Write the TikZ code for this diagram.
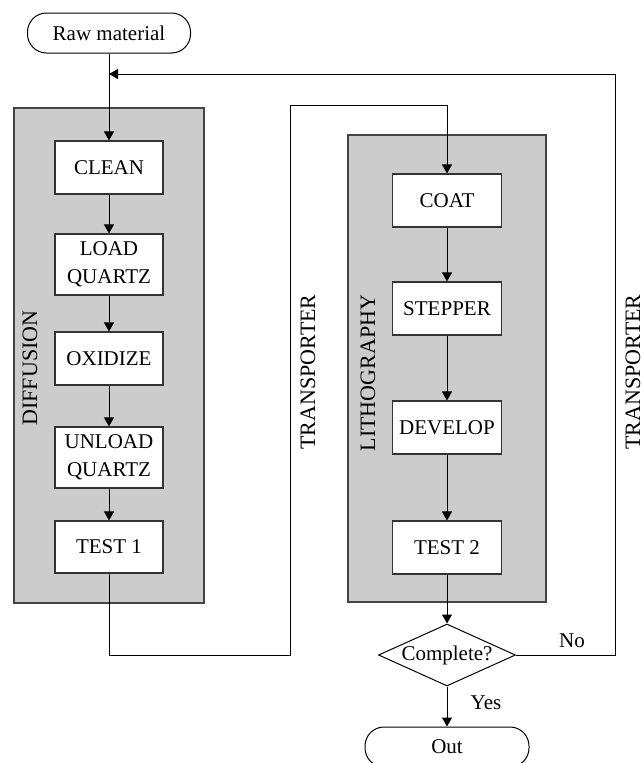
\documentclass[tikz,border=0pt]{standalone}
\usepackage{fontspec}
\setmainfont{Liberation Serif}
\usetikzlibrary{shapes.geometric,arrows.meta}
\definecolor{grp}{HTML}{CCCCCC}
\definecolor{grpline}{HTML}{444444}
\definecolor{boxline}{HTML}{333333}
\tikzset{
  every node/.style={font=\fontsize{21}{28}\selectfont},
  procbox/.style={draw=boxline, line width=1.1pt, fill=white, minimum width=108pt, inner sep=0pt, align=center},
  onebox/.style={procbox, minimum height=53pt},
  twobox/.style={procbox, minimum height=61pt},
  grpbox/.style={draw=grpline, line width=1.1pt, fill=grp, inner sep=0pt},
  termbox/.style={draw, line width=1pt, fill=white, rounded corners=19pt, inner sep=0pt},
  decbox/.style={draw, line width=1pt, fill=white, diamond, shape aspect=2.2, inner sep=0pt, minimum width=137pt, minimum height=62pt},
  arr/.style={line width=1pt, -{Triangle[length=9pt,width=10pt]}},
  ln/.style={line width=1pt},
  vlabel/.style={rotate=90, font=\fontsize{22}{26}\selectfont}
}
\begin{document}
\begin{tikzpicture}[x=1pt,y=-1pt]
\useasboundingbox (0,0) rectangle (644,763);
% group boxes
\node[grpbox, minimum width=190pt, minimum height=495pt] (diff) at (109,355.5) {};
\node[grpbox, minimum width=198pt, minimum height=467pt] (litho) at (447,368.5) {};
\node[vlabel] (difflbl) at (30,368) {DIFFUSION};
\node[vlabel] (litholbl) at (368,373) {LITHOGRAPHY};
\node[vlabel] (tr1) at (308,372) {TRANSPORTER};
\node[vlabel] (tr2) at (633,372) {TRANSPORTER};
% terminals
\node[termbox, minimum width=163pt, minimum height=40pt] (raw) at (109,33) {Raw material};
\node[termbox, minimum width=164pt, minimum height=40pt] (out) at (447,747) {Out};
% diffusion steps
\node[onebox] (clean) at (109,167.5) {CLEAN};
\node[twobox] (loadq) at (109,264.5) {LOAD\\QUARTZ};
\node[onebox] (oxid) at (109,358.5) {OXIDIZE};
\node[twobox] (unload) at (109,457.5) {UNLOAD\\QUARTZ};
\node[onebox, minimum height=52pt] (test1) at (109,547) {TEST 1};
% lithography steps
\node[onebox, minimum width=109pt] (coat) at (447,200.5) {COAT};
\node[onebox, minimum width=109pt] (stepper) at (447,308.5) {STEPPER};
\node[onebox, minimum width=109pt] (develop) at (447,427.5) {DEVELOP};
\node[onebox, minimum width=109pt] (test2) at (447,547.5) {TEST 2};
% decision
\node[decbox] (complete) at (447,655) {Complete?};
% labels
\node (nolbl) at (572,641) {No};
\node (yeslbl) at (486,703) {Yes};
% helper coordinates
\coordinate (fbtop) at (615,74);
\coordinate (fbjoin) at (109,74);
\coordinate (bl) at (290,655);
\coordinate (trc) at (447,105);
% connectors
\draw[arr] (raw.south) -- (clean.north);
\draw[arr] (clean) -- (loadq);
\draw[arr] (loadq) -- (oxid);
\draw[arr] (oxid) -- (unload);
\draw[arr] (unload) -- (test1);
\draw[arr] (test1.south) |- (bl) |- (trc) -- (coat.north);
\draw[arr] (coat) -- (stepper);
\draw[arr] (stepper) -- (develop);
\draw[arr] (develop) -- (test2);
\draw[arr] (test2) -- (complete);
\draw[arr] (complete) -- (out);
\draw[arr] (complete.east) -| (fbtop) -- (fbjoin);
\end{tikzpicture}
\end{document}
